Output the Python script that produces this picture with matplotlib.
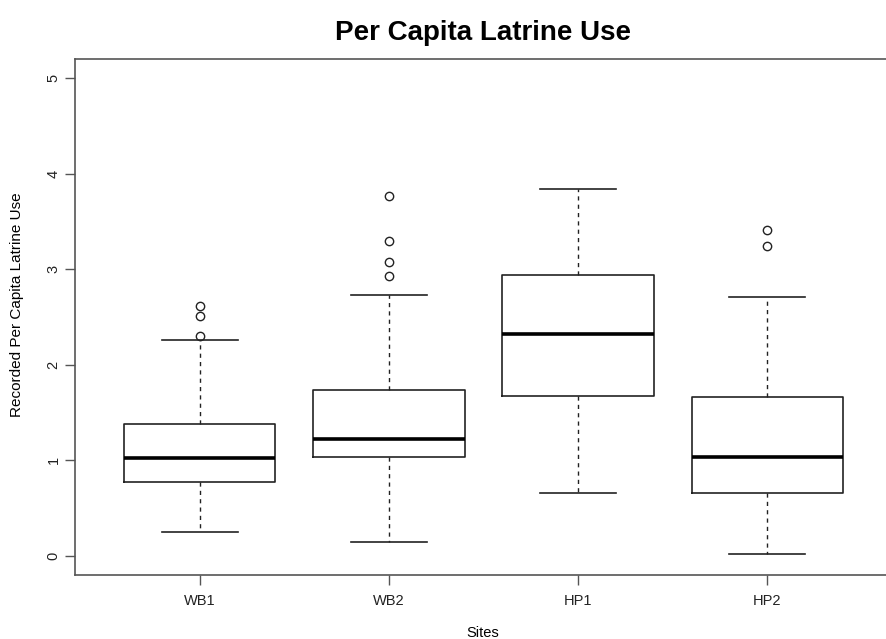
import numpy as np
import matplotlib.pyplot as plt

# Valeurs (boxplot style R)
sites = ["WB1", "WB2", "HP1", "HP2"]
med = [1.02, 1.22, 2.32, 1.04]
q1 = [0.77, 1.03, 1.67, 0.66]
q3 = [1.38, 1.74, 2.94, 1.66]
whislo = [0.25, 0.15, 0.66, 0.02]
whishi = [2.26, 2.73, 3.84, 2.71]
fliers = [[2.30, 2.51, 2.61],
          [2.93, 3.08, 3.30, 3.77],
          [],
          [3.24, 3.41]]

stats = []
for i in range(len(sites)):
    stats.append(dict(med=med[i], q1=q1[i], q3=q3[i], whislo=whislo[i],
                      whishi=whishi[i], fliers=fliers[i], label=sites[i]))

plt.rcParams['font.family'] = ['Liberation Sans', 'DejaVu Sans']

fig = plt.figure(figsize=(8.86, 6.39), dpi=100)
# le cadre déborde à droite comme dans l'original
ax = fig.add_axes([75/886, 64/639, 817/886, 516/639])

col = '#222222'
ax.bxp(stats, positions=np.arange(1, 5), widths=0.8,
       boxprops=dict(color=col, linewidth=1.2),
       medianprops=dict(color='black', linewidth=2.6),
       whiskerprops=dict(color=col, linewidth=1.0, linestyle=(0, (3, 3))),
       capprops=dict(color=col, linewidth=1.2),
       capwidths=0.4,
       flierprops=dict(marker='o', markersize=6, markerfacecolor='none',
                       markeredgecolor=col, markeredgewidth=1.0))

ax.set_xlim(0.34, 4.66)
ax.set_ylim(-0.2, 5.2)
ax.set_yticks([0, 1, 2, 3, 4, 5])
ax.set_xticks([1, 2, 3, 4])
ax.set_xticklabels(sites)
ax.tick_params(axis='both', direction='out', length=7, width=1.0,
               color='#555555', labelsize=10.5, labelcolor='#222222')
ax.tick_params(axis='x', pad=7)
for t in ax.get_yticklabels():
    t.set_rotation(90)
    t.set_va('center')
for s in ax.spines.values():
    s.set_color('#555555')
    s.set_linewidth(1.2)

fig.text(483/886, 1 - 33/639, "Per Capita Latrine Use", ha='center', va='center',
         fontsize=20, fontweight='bold')
fig.text(483/886, 1 - 633/639, "Sites", ha='center', va='center', fontsize=10.5)
fig.text(17/886, 1 - 305/639, "Recorded Per Capita Latrine Use", ha='center',
         va='center', rotation=90, fontsize=11)

fig.savefig("out.png", dpi=100)
